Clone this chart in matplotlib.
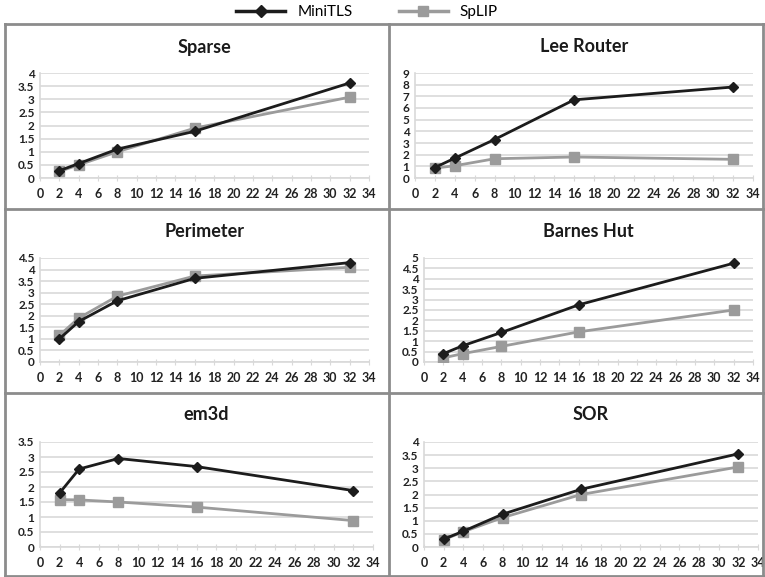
#### Workspace setup ####
import matplotlib
matplotlib.use("Agg")
import matplotlib.pyplot as plt
from matplotlib.lines import Line2D
from matplotlib.ticker import FuncFormatter, MultipleLocator

plt.rcParams["font.family"] = ["Lato", "DejaVu Sans"]

#### Data ####
threads = [2, 4, 8, 16, 32]
panel_titles = ["Sparse", "Lee Router", "Perimeter", "Barnes Hut", "em3d", "SOR"]

sparse_minitls = [0.28, 0.55, 1.1, 1.78, 3.62]
sparse_splip = [0.25, 0.5, 1.0, 1.9, 3.08]

lee_minitls = [0.9, 1.7, 3.3, 6.7, 7.8]
lee_splip = [0.85, 1.05, 1.65, 1.8, 1.6]

perimeter_minitls = [1.0, 1.75, 2.65, 3.62, 4.3]
perimeter_splip = [1.15, 1.9, 2.85, 3.72, 4.1]

barnes_minitls = [0.4, 0.78, 1.42, 2.75, 4.75]
barnes_splip = [0.2, 0.4, 0.75, 1.45, 2.5]

em3d_minitls = [1.8, 2.6, 2.95, 2.68, 1.88]
em3d_splip = [1.58, 1.57, 1.5, 1.33, 0.88]

sor_minitls = [0.3, 0.6, 1.25, 2.2, 3.55]
sor_splip = [0.28, 0.58, 1.12, 2.0, 3.05]

minitls_series = [sparse_minitls, lee_minitls, perimeter_minitls,
                  barnes_minitls, em3d_minitls, sor_minitls]
splip_series = [sparse_splip, lee_splip, perimeter_splip,
                barnes_splip, em3d_splip, sor_splip]
y_max = [4, 9, 4.5, 5, 3.5, 4]
y_step = [0.5, 1, 0.5, 0.5, 0.5, 0.5]

#### Layout (pixels of a 765x577 canvas) ####
W, H = 765, 577
# left, right, top, bottom of each plot area
boxes = [
    (40, 369, 73, 178), (415, 753, 73, 178),
    (40, 369, 258, 362), (424, 753, 258, 362),
    (40, 373, 442, 547), (424, 758, 442, 547),
]
title_y = [47, 47, 232, 232, 415, 415]

BLACK = "#1c1c1c"
GREY = "#9b9b9b"
GRID = "#d9d9d9"


def main():
    fig = plt.figure(figsize=(W / 100, H / 100), dpi=100)

    for i, (l, r, t, b) in enumerate(boxes):
        ax = fig.add_axes([l / W, 1 - b / H, (r - l) / W, (b - t) / H])
        ax.plot(threads, minitls_series[i], color=BLACK, lw=2,
                marker="D", ms=5, zorder=4)
        ax.plot(threads, splip_series[i], color=GREY, lw=2,
                marker="s", ms=7, zorder=3)
        ax.set_xlim(0, 34)
        ax.set_ylim(0, y_max[i])
        ax.xaxis.set_major_locator(MultipleLocator(2))
        ax.yaxis.set_major_locator(MultipleLocator(y_step[i]))
        ax.yaxis.set_major_formatter(FuncFormatter(lambda v, p: f"{v:g}"))
        ax.grid(axis="y", color=GRID, lw=1.2)
        ax.set_axisbelow(True)
        for s in ["top", "right"]:
            ax.spines[s].set_visible(False)
        for s in ["left", "bottom"]:
            ax.spines[s].set_color(GRID)
            ax.spines[s].set_linewidth(1.2)
        ax.tick_params(axis="x", direction="inout", length=4, color=GRID,
                       labelsize=9, pad=5)
        ax.tick_params(axis="y", length=0, labelsize=8.5, pad=4)
        for lab in ax.get_xticklabels() + ax.get_yticklabels():
            lab.set_fontweight("bold")
            lab.set_color("#222222")
        cx = (l + r) / 2 / W
        fig.text(cx, 1 - title_y[i] / H, panel_titles[i], ha="center",
                 va="center", fontsize=13, fontweight="bold", color="#1a1a1a")

    # Panel borders
    border = dict(color="#8c8c8c", lw=2, transform=fig.transFigure)
    for y in [24, 209, 393, 576]:
        fig.add_artist(Line2D([5 / W, 1], [1 - y / H] * 2, **border))
    for x in [5, 389, 763]:
        fig.add_artist(Line2D([x / W] * 2, [1 - 24 / H, 0], **border))

    # Legend
    handles = [
        Line2D([], [], color=BLACK, lw=2.5, marker="D", ms=6),
        Line2D([], [], color=GREY, lw=2.5, marker="s", ms=7),
    ]
    fig.legend(handles, ["MiniTLS", "SpLIP"], loc="center",
               bbox_to_anchor=(0.48, 1 - 12 / H), ncol=2, frameon=False,
               fontsize=11, handlelength=3.2, columnspacing=3)

    fig.savefig("out.png", dpi=100)
    plt.close(fig)


if __name__ == "__main__":
    main()
